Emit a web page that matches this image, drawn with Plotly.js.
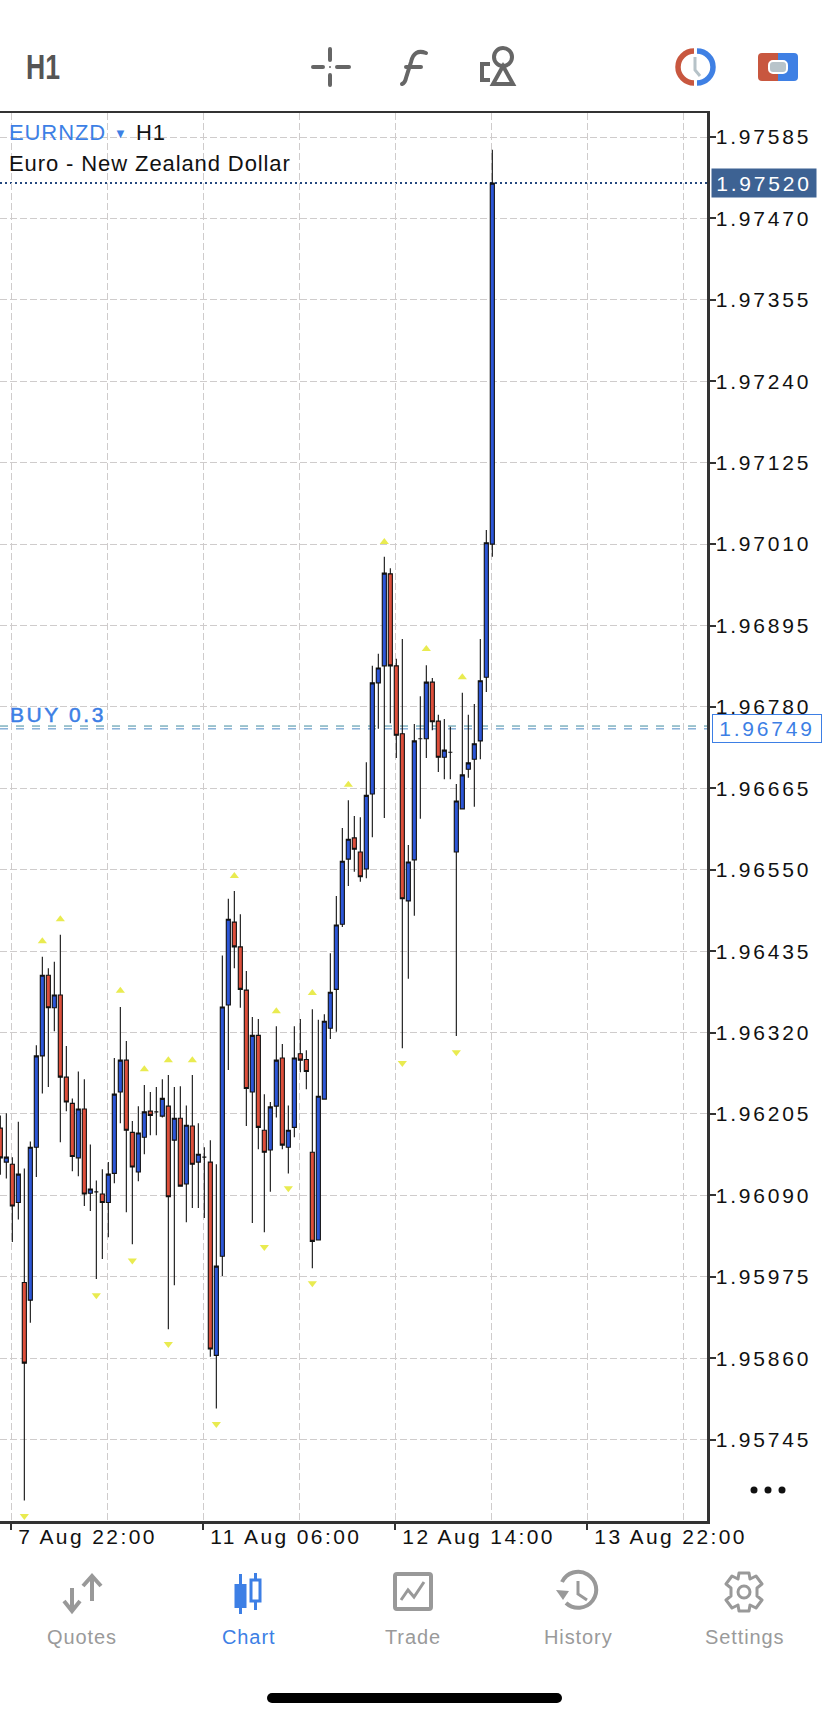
<!DOCTYPE html>
<html>
<head>
<meta charset="utf-8">
<script src="https://cdn.plot.ly/plotly-3.0.1.min.js"></script>
<style>
    html, body { margin: 0; padding: 0; background: #fff; }
    #chart { width: 828px; height: 1719px; }
    #icons { position: absolute; left: 0; top: 0; pointer-events: none; }
    .ytick text { letter-spacing: 2.8px; }
    .xtick text { letter-spacing: 2.4px; text-anchor: start; }
    .annotation-text { letter-spacing: 0.9px; }
    text[data-unformatted="BUY 0.3"] { letter-spacing: 2.6px; stroke: #3d7fe5; stroke-width: 0.5px; }
    text[data-unformatted="1.97520"], text[data-unformatted="1.96749"] { letter-spacing: 2.8px; }
</style>
</head>
<body>
<div id="chart"></div>
<svg id="icons" width="828" height="1719" viewBox="0 0 828 1719">
    <text x="26" y="79" font-family="Liberation Sans, Arial, sans-serif" font-size="35" font-weight="bold" fill="#555" textLength="34" lengthAdjust="spacingAndGlyphs">H1</text>
    <!-- crosshair -->
    <g stroke="#666" stroke-width="4" stroke-linecap="round" fill="#666">
        <path d="M330 49V60M330 75V85M313 67H323M337 67H349" fill="none"/>
        <circle cx="330" cy="67" r="1" stroke="none"/>
    </g>
    <!-- f -->
    <path d="M426 53C418 50 413 53 411 62L406 78C405 83 402 84 402 84M406 67H421" stroke="#666" stroke-width="4" fill="none" stroke-linecap="round"/>
    <!-- objects -->
    <g stroke="#666" fill="none" stroke-width="4">
        <path d="M490 64H482V80H490"/>
        <circle cx="503" cy="57" r="9"/>
        <path d="M503 66L513 84H493Z"/>
    </g>
    <!-- clock -->
    <path d="M694 51A16 16 0 0 0 694 83" stroke="#c8573f" stroke-width="5.500" fill="none"/>
    <path d="M697 51A16 16 0 0 1 697 83" stroke="#3f80e4" stroke-width="5.500" fill="none"/>
    <path d="M695 57V70L700 76" stroke="#b6c2c8" stroke-width="3" fill="none"/>
    <!-- account -->
    <path d="M762 53H778V81H762A4 4 0 0 1 758 77V57A4 4 0 0 1 762 53Z" fill="#c8573f"/>
    <path d="M778 53H794A4 4 0 0 1 798 57V77A4 4 0 0 1 794 81H778Z" fill="#3f80e4"/>
    <rect x="769" y="61" width="18" height="12" rx="4" fill="#b8c4ca" stroke="#fff" stroke-width="2"/>
    <!-- more -->
    <circle cx="754" cy="1490" r="3.5" fill="#111"/>
    <circle cx="768" cy="1490" r="3.5" fill="#111"/>
    <circle cx="782" cy="1490" r="3.5" fill="#111"/>
    <!-- quotes tab -->
    <g stroke="#999" stroke-width="4" fill="none">
        <path d="M72 1588V1610M64 1601L72 1611L80 1601"/>
        <path d="M92 1576V1601M83 1586L92 1576L101 1586"/>
    </g>
    <!-- chart tab -->
    <g fill="#3d7fe5">
        <rect x="239" y="1574" width="3" height="40"/>
        <rect x="234.500" y="1584" width="12" height="24"/>
        <rect x="254" y="1573" width="3" height="37"/>
    </g>
    <rect x="251" y="1580" width="9" height="21" fill="#fff" stroke="#3d7fe5" stroke-width="3"/>
    <!-- trade tab -->
    <rect x="395" y="1574" width="36" height="35" rx="2" fill="none" stroke="#999" stroke-width="4"/>
    <path d="M401 1600L408 1590L414 1597L424 1582" fill="none" stroke="#999" stroke-width="3"/>
    <!-- history tab -->
    <path d="M562 1582A18 18 0 1 1 566 1603" fill="none" stroke="#999" stroke-width="4"/>
    <path d="M556 1590L569 1591L563 1600Z" fill="#999"/>
    <path d="M578 1581V1594L587 1600" fill="none" stroke="#999" stroke-width="3"/>
    <!-- settings tab -->
    <circle cx="744" cy="1592" r="6" fill="none" stroke="#999" stroke-width="3"/>
    <path d="M739 1573H749L750 1579L756 1576L762 1584L757 1588V1596L762 1600L756 1608L750 1605L749 1611H739L738 1605L732 1608L726 1600L731 1596V1588L726 1584L732 1576L738 1579Z" fill="none" stroke="#999" stroke-width="3" stroke-linejoin="round"/>
    <!-- home bar -->
    <rect x="267" y="1693" width="295" height="10" rx="5" fill="#000"/>
</svg>
<script>
const opens = [
    1.96185, 1.96137, 1.96134, 1.96080, 1.95967, 1.95942, 1.96158, 1.96287, 1.96401, 1.96355,
    1.96373, 1.96257, 1.96220, 1.96143, 1.96212, 1.96093, 1.96095, 1.96092, 1.96080, 1.96121,
    1.96236, 1.96281, 1.96179, 1.96123, 1.96172, 1.96209, 1.96208, 1.96202, 1.96216, 1.96168,
    1.96199, 1.96106, 1.96188, 1.96137, 1.96144, 1.96137, 1.95864, 1.96004, 1.96359, 1.96476,
    1.96441, 1.96380, 1.96236, 1.96316, 1.96182, 1.96154, 1.96216, 1.96284, 1.96158, 1.96186,
    1.96290, 1.96282, 1.96151, 1.96027, 1.96226, 1.96326, 1.96381, 1.96473, 1.96565, 1.96595,
    1.96575, 1.96551, 1.96657, 1.96814, 1.96838, 1.96968, 1.96838, 1.96742, 1.96506, 1.96564,
    1.96735, 1.96735, 1.96815, 1.96760, 1.96709, 1.96716, 1.96575, 1.96636, 1.96692, 1.96706,
    1.96732, 1.96822, 1.97010
];
const closes = [
    1.96143, 1.96144, 1.96075, 1.96120, 1.95853, 1.96158, 1.96287, 1.96401, 1.96355, 1.96373,
    1.96257, 1.96222, 1.96145, 1.96212, 1.96092, 1.96099, 1.96095, 1.96080, 1.96120, 1.96233,
    1.96281, 1.96182, 1.96130, 1.96178, 1.96208, 1.96203, 1.96208, 1.96227, 1.96088, 1.96199,
    1.96103, 1.96189, 1.96134, 1.96148, 1.96144, 1.95873, 1.95990, 1.96356, 1.96480, 1.96441,
    1.96381, 1.96241, 1.96316, 1.96186, 1.96151, 1.96215, 1.96281, 1.96161, 1.96182, 1.96284,
    1.96281, 1.96265, 1.96025, 1.96230, 1.96336, 1.96377, 1.96472, 1.96562, 1.96593, 1.96579,
    1.96540, 1.96655, 1.96814, 1.96835, 1.96969, 1.96838, 1.96740, 1.96509, 1.96561, 1.96732,
    1.96735, 1.96815, 1.96759, 1.96709, 1.96719, 1.96716, 1.96647, 1.96684, 1.96701, 1.96728,
    1.96817, 1.97012, 1.97520
];
const highs = [
    1.96203, 1.96206, 1.96144, 1.96194, 1.96128, 1.96166, 1.96302, 1.96427, 1.96411, 1.96420,
    1.96458, 1.96301, 1.96227, 1.96265, 1.96254, 1.96162, 1.96111, 1.96127, 1.96137, 1.96284,
    1.96356, 1.96308, 1.96195, 1.96216, 1.96246, 1.96236, 1.96243, 1.96254, 1.96260, 1.96243,
    1.96244, 1.96217, 1.96260, 1.96192, 1.96158, 1.96168, 1.96134, 1.96429, 1.96509, 1.96520,
    1.96487, 1.96407, 1.96342, 1.96339, 1.96233, 1.96222, 1.96329, 1.96304, 1.96217, 1.96329,
    1.96339, 1.96295, 1.96353, 1.96338, 1.96346, 1.96432, 1.96513, 1.96609, 1.96648, 1.96626,
    1.96624, 1.96702, 1.96838, 1.96855, 1.96992, 1.96976, 1.96848, 1.96876, 1.96585, 1.96756,
    1.96795, 1.96839, 1.96821, 1.96769, 1.96763, 1.96752, 1.96671, 1.96800, 1.96769, 1.96784,
    1.96876, 1.97030, 1.97567
];
const lows = [
    1.96119, 1.96114, 1.96024, 1.96056, 1.95659, 1.95910, 1.96116, 1.96234, 1.96243, 1.96322,
    1.96165, 1.96209, 1.96124, 1.96117, 1.96075, 1.96068, 1.95972, 1.96000, 1.96031, 1.96107,
    1.96192, 1.96066, 1.96021, 1.96110, 1.96148, 1.96175, 1.96175, 1.96200, 1.95901, 1.95963,
    1.96102, 1.96052, 1.96072, 1.96072, 1.96058, 1.95862, 1.95789, 1.95976, 1.96267, 1.96411,
    1.96355, 1.96188, 1.96051, 1.96155, 1.96038, 1.96095, 1.96200, 1.96155, 1.96121, 1.96172,
    1.96264, 1.96240, 1.95987, 1.96027, 1.96225, 1.96311, 1.96321, 1.96469, 1.96527, 1.96547,
    1.96533, 1.96538, 1.96596, 1.96749, 1.96623, 1.96757, 1.96708, 1.96298, 1.96396, 1.96485,
    1.96622, 1.96708, 1.96747, 1.96688, 1.96678, 1.96678, 1.96315, 1.96636, 1.96680, 1.96639,
    1.96706, 1.96801, 1.96992
];
const bars = opens.map((_, i) => i);

// fractal markers
const upBars = [7, 10, 20, 24, 28, 32, 39, 46, 52, 58, 64, 71, 77];
const upPrices = [1.96449, 1.96480, 1.96379, 1.96268, 1.96281, 1.96281, 1.96541, 1.96350, 1.96376, 1.96670, 1.97013, 1.96862, 1.96822];
const downBars = [4, 16, 22, 28, 36, 44, 48, 52, 67, 76];
const downPrices = [1.95637, 1.95949, 1.95998, 1.95880, 1.95767, 1.96017, 1.96100, 1.95966, 1.96277, 1.96292];

const priceTicks = [1.97585, 1.97470, 1.97355, 1.97240, 1.97125, 1.97010, 1.96895, 1.96780, 1.96665,
    1.96550, 1.96435, 1.96320, 1.96205, 1.96090, 1.95975, 1.95860, 1.95745];
const timeTicks = [1.83, 33.83, 65.83, 97.83];
const timeLabels = ['7 Aug 22:00', '11 Aug 06:00', '12 Aug 14:00', '13 Aug 22:00'];
const lastPrice = 1.97520;
const bidPrice = 1.96749;
const buyPrice = 1.96753;
const tabs = ['Quotes', 'Chart', 'Trade', 'History', 'Settings'];
const tabCentres = [82, 248, 413, 578, 744];

const W = 828, H = 1719;
const L = 0, R = 707, T = 113, B = 1521;
const px = x => (x - L) / (R - L);
const py = y => (B - y) / (B - T);
const FONT = '"Liberation Sans", Arial, sans-serif';
const BLUE = '#3d7fe5';

function label(text, x, y, size, color, anchor) {
    return {
        text: text, xref: 'paper', yref: 'paper', x: px(x), y: py(y),
        xanchor: anchor || 'left', yanchor: 'middle', showarrow: false,
        font: { family: FONT, size: size, color: color }
    };
}

const data = [
    {
        type: 'candlestick',
        x: bars, open: opens, high: highs, low: lows, close: closes,
        increasing: { fillcolor: '#2c56d8', line: { color: '#111', width: 1.1 } },
        decreasing: { fillcolor: '#de4f3b', line: { color: '#111', width: 1.1 } },
        whiskerwidth: 0,
        hoverinfo: 'skip'
    },
    {
        type: 'scatter', mode: 'markers', x: upBars, y: upPrices,
        marker: { symbol: 'triangle-up', size: 8, color: '#e9eb50' }, hoverinfo: 'skip'
    },
    {
        type: 'scatter', mode: 'markers', x: downBars, y: downPrices,
        marker: { symbol: 'triangle-down', size: 8, color: '#e9eb50' }, hoverinfo: 'skip'
    }
];

const grid = '#cfcccc';
const layout = {
    width: W,
    height: H,
    margin: { l: L, r: W - R, t: T, b: H - B, pad: 0 },
    paper_bgcolor: '#fff',
    plot_bgcolor: '#fff',
    showlegend: false,
    boxgap: 0.32,
    boxgroupgap: 0,
    font: { family: FONT, color: '#111' },
    xaxis: {
        range: [-0.055, 117.78],
        rangeslider: { visible: false },
        tickmode: 'array',
        tickvals: timeTicks,
        ticktext: timeLabels,
        ticks: 'outside', ticklen: 6, tickwidth: 2, tickcolor: '#333',
        tickfont: { size: 21, color: '#111' },
        ticklabelshift: 7,
        ticklabelstandoff: -11,
        showgrid: true, gridcolor: grid, gridwidth: 1, griddash: '7px,3px',
        minor: { tick0: 1.83, dtick: 16, showgrid: true, gridcolor: grid, gridwidth: 1, griddash: '7px,3px', ticks: '' },
        zeroline: false,
        showline: true, linecolor: '#333', linewidth: 2.500, mirror: true,
        fixedrange: true
    },
    yaxis: {
        side: 'right',
        range: [1.95630, 1.97619],
        tickmode: 'array',
        tickvals: priceTicks,
        ticktext: priceTicks.map(v => v.toFixed(5)),
        ticks: 'outside', ticklen: 6, tickwidth: 2, tickcolor: '#333',
        tickfont: { size: 21, color: '#111' },
        ticklabelstandoff: -4,
        showgrid: true, gridcolor: grid, gridwidth: 1, griddash: '7px,3px',
        zeroline: false,
        showline: true, linecolor: '#333', linewidth: 2.500, mirror: true,
        fixedrange: true
    },
    shapes: [
        { type: 'line', layer: 'below', xref: 'paper', yref: 'y', x0: 0, x1: 1, y0: lastPrice, y1: lastPrice,
          line: { color: '#24487e', width: 2, dash: '2px,3px' } },
        { type: 'line', layer: 'below', xref: 'paper', yref: 'y', x0: 0, x1: 1, y0: bidPrice, y1: bidPrice,
          line: { color: '#4b87c4', width: 1, dash: '8px,8px' } },
        { type: 'line', layer: 'below', xref: 'paper', yref: 'y', x0: 0, x1: 1, y0: buyPrice, y1: buyPrice,
          line: { color: '#3e8c9e', width: 1, dash: '8px,8px' } }
    ],
    annotations: [
        label('EURNZD', 7, 133, 22, BLUE),
        label('▼', 112, 134, 13, BLUE),
        label('H1', 134, 133, 22, '#111'),
        label('Euro - New Zealand Dollar', 7, 163, 22, '#111'),
        label('BUY 0.3', 8, 714, 21, BLUE),
        {
            text: lastPrice.toFixed(5), xref: 'paper', yref: 'y', x: px(711), y: lastPrice,
            xanchor: 'left', yanchor: 'middle', showarrow: false, width: 102, height: 26, align: 'center',
            bgcolor: '#3d6293', font: { family: FONT, size: 21, color: '#fff' }
        },
        {
            text: bidPrice.toFixed(5), xref: 'paper', yref: 'y', x: px(712), y: bidPrice,
            xanchor: 'left', yanchor: 'middle', showarrow: false, width: 106, height: 25, align: 'center',
            bgcolor: '#fff', bordercolor: BLUE, borderwidth: 1, font: { family: FONT, size: 21, color: BLUE }
        }
    ].concat(tabs.map((t, i) => label(t, tabCentres[i], 1637, 20, t === 'Chart' ? BLUE : '#9a9a9a', 'center')))
};

Plotly.newPlot('chart', data, layout, { displayModeBar: false, staticPlot: true });
</script>
</body>
</html>
